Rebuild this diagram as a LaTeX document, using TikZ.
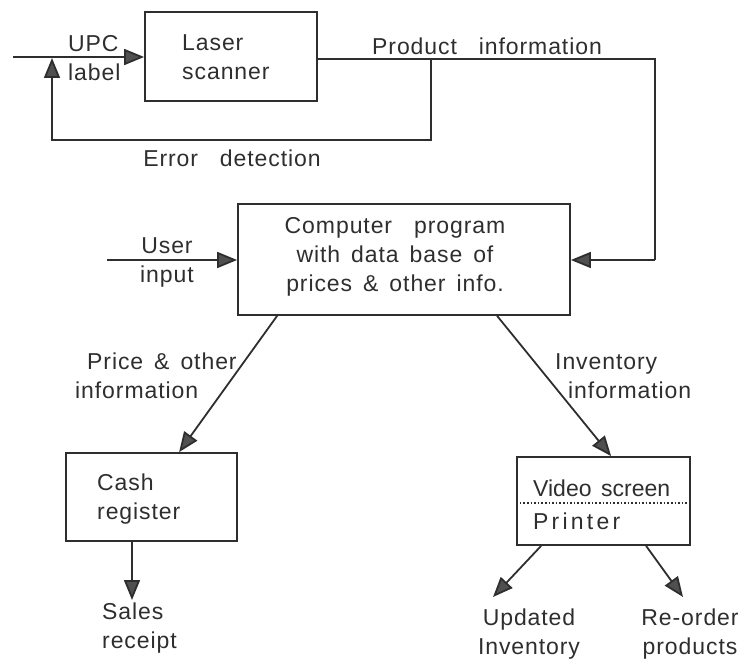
\documentclass[tikz,border=0pt]{standalone}
\usepackage{fontspec}
\setmainfont{Liberation Sans}[LetterSpace=4,WordSpace=1.5]
\usetikzlibrary{arrows.meta,calc}
\definecolor{ink}{HTML}{2E2E2E}
\definecolor{tipfill}{HTML}{505050}
\begin{document}
\begin{tikzpicture}[x=1pt,y=-1pt,
  font=\fontsize{23}{29}\selectfont,
  every node/.style={text=ink},
  box/.style={draw=ink,line width=1.8pt,rectangle,inner sep=0pt},
  lbl/.style={inner sep=0pt,align=left},
  flow/.style={draw=ink,line width=1.8pt},
  tip/.style={-{Triangle[length=20pt,width=16pt,fill=tipfill]}},
]
\useasboundingbox (0,0) rectangle (746,660);
% boxes
\node[box,minimum width=172pt,minimum height=89pt] (laser) at (231,56.5) {};
\node[box,minimum width=332pt,minimum height=111pt] (comp) at (404,259.5) {};
\node[box,minimum width=171pt,minimum height=88pt] (cash) at (151.5,497) {};
\node[box,minimum width=173pt,minimum height=88pt] (video) at (603.5,501) {};
% box texts
\node[lbl,anchor=west] (lasertxt) at (182,57) {Laser\\scanner};
\node[align=center,inner sep=0pt] (comptxt) at (395,257) {Computer\ \ program\\with data base of\\prices \& other info.};
\node[lbl,anchor=west] (cashtxt) at (97,499) {Cash\\register};
\node[lbl,anchor=west] (vidtxt) at (533,488) {\addfontfeature{LetterSpace=0}Video screen};
\node[lbl,anchor=west] (printtxt) at (533,521) {\addfontfeature{LetterSpace=14}Printer};
\draw[ink,line width=1.6pt,dotted] ($(video.west)+(0,2)$) -- ($(video.east)+(0,2)$);
% labels
\node[lbl,anchor=west] (upc) at (68,58) {UPC\\label};
\node[lbl] (prodinfo) at (487,46) {Product\ \ information};
\node[lbl] (errdet) at (232,158) {Error\ \ detection};
\node[align=center,inner sep=0pt] (userin) at (167,262) {User\\input};
\node[lbl,anchor=west] (priceinfo) at (75,376) {\hspace*{12pt}Price \& other\\information};
\node[lbl,anchor=west] (invinfo) at (555,376) {Inventory\\\hspace*{13pt}information};
\node[lbl,anchor=west] (sales) at (102,628) {Sales\\receipt};
\node[align=center,inner sep=0pt] (updated) at (529,634) {Updated\\Inventory};
\node[align=center,inner sep=0pt] (reorder) at (690,634) {Re-order\\products};
% coordinates
\coordinate (upcstart) at (13,57);
\coordinate (fbjoin) at (431,59);
\coordinate (fbcorner) at (431,140);
\coordinate (fbleft) at (52,140);
\coordinate (fbend) at (52,58);
\coordinate (prodright) at (655,59);
\coordinate (proddown) at (655,260);
\coordinate (userstart) at (107,260);
\coordinate (salesend) at (132,600);
\coordinate (updend) at (493,597);
\coordinate (reend) at (683,597);
% connectors
\draw[flow,tip] (upcstart) -- (laser.west |- upcstart);
\draw[flow] (laser.east |- fbjoin) -- (prodright) -- (proddown);
\draw[flow,tip] (proddown) -- (comp.east |- proddown);
\draw[flow,tip] (fbjoin) -- (fbcorner) -- (fbleft) -- (fbend);
\draw[flow,tip] (userstart) -- (comp.west |- userstart);
\draw[flow,tip] ($(comp.south west)+(40,0)$) -- ($(cash.north west)+(114,0)$);
\draw[flow,tip] ($(comp.south west)+(260,0)$) -- ($(video.north west)+(95,0)$);
\draw[flow,tip] (cash.south west -| salesend) -- (salesend);
\draw[flow,tip] ($(video.south west)+(25,0)$) -- (updend);
\draw[flow,tip] ($(video.south west)+(130,0)$) -- (reend);
\end{tikzpicture}
\end{document}
